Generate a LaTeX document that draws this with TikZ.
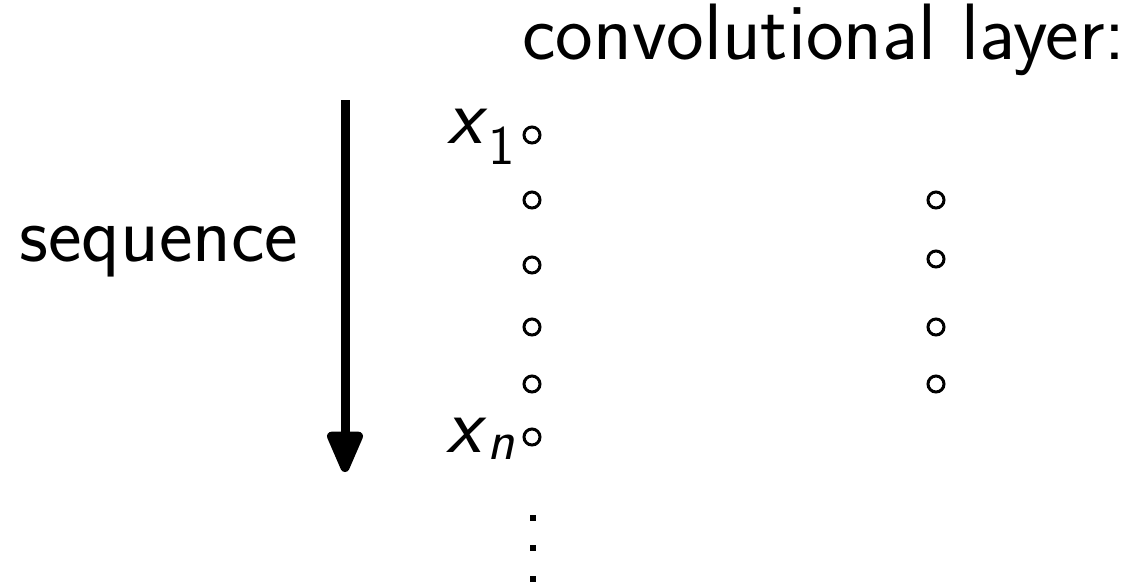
\documentclass[tikz,border=0pt]{standalone}
\usepackage{tikz}
\usetikzlibrary{arrows.meta,positioning}
\renewcommand{\familydefault}{\sfdefault}
\newcommand{\seqvar}[2]{\textit{#1}\textsubscript{#2}}

\begin{document}
\begin{tikzpicture}[x=0.5pt, y=-0.5pt, font=\fontsize{40}{46}\selectfont,
    unit/.style={circle, draw, line width=1.5pt, inner sep=0pt, minimum size=8pt}]
  \useasboundingbox (0,0) rectangle (1137,586);
  \node[inner sep=0pt] (title) at (824,40) {convolutional layer:};
  \node (seq) at (159,252) {sequence};
  \coordinate (top) at (345,100);
  \coordinate (bot) at (345,472);
  \draw[line width=4.5pt, -{Triangle[length=24pt, width=19pt, round]}] (top) -- (bot);
  % input column
  \node[unit] (x1) at (532,135) {};
  \foreach \y [count=\i] in {200,265,327,384}
    \node[unit] (in\i) at (532,\y) {};
  \node[unit] (xn) at (532,437) {};
  \node[left=0pt of x1, yshift=-1pt] (lx1) {\seqvar{x}{1}};
  \node[left=0pt of xn, yshift=-1pt] (lxn) {\seqvar{x}{\textit{n}}};
  % output column
  \foreach \y [count=\i] in {200,259,327,384}
    \node[unit] (out\i) at (936,\y) {};
  % continuation
  \foreach \y in {518,548,579}
    \fill (530,\y-3) rectangle ++(6,6);
\end{tikzpicture}
\end{document}
